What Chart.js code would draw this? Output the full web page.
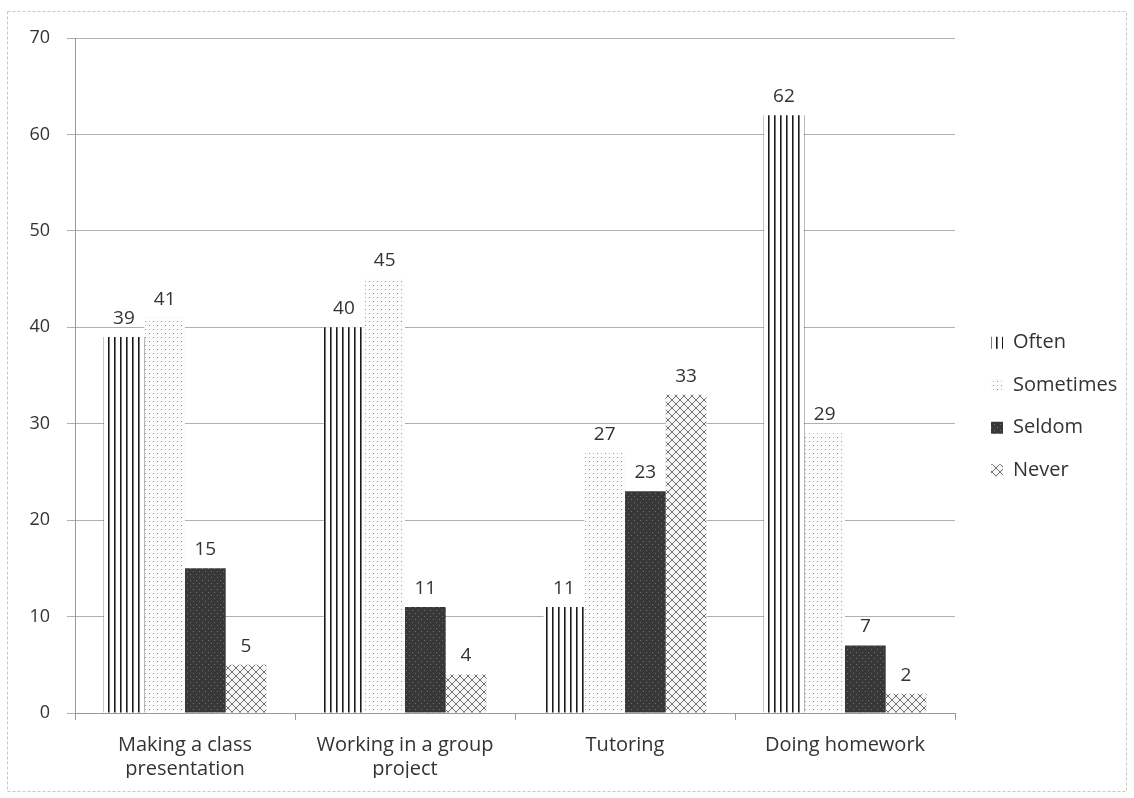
<!DOCTYPE html>
<html><head><meta charset="utf-8">
<script src="https://cdn.jsdelivr.net/npm/chart.js@4/dist/chart.umd.min.js"></script>
<style>html,body{margin:0;padding:0;background:#fff}#wrap{width:1134px;height:798px;position:relative}</style>
</head><body><div id="wrap"><canvas id="c" width="1134" height="798"></canvas></div>
<script>
const categories = [["Making a class","presentation"],["Working in a group","project"],["Tutoring"],["Doing homework"]];
const seriesNames = ["Often","Sometimes","Seldom","Never"];
const often = [39, 40, 11, 62];
const sometimes = [41, 45, 27, 29];
const seldom = [15, 11, 23, 7];
const never = [5, 4, 33, 2];
const yTicks = [0,10,20,30,40,50,60,70];

function pat(kind){
  const c=document.createElement('canvas');
  const x=c.getContext('2d');
  if(kind==='often'){
    c.width=6;c.height=6;x.fillStyle='#fff';x.fillRect(0,0,6,6);
    x.fillStyle='#1a1a1a';x.fillRect(0,0,1,6);x.fillStyle='#777';x.fillRect(1,0,1,6);
  } else if(kind==='sometimes'){
    c.width=8;c.height=8;x.fillStyle='#fcfcfc';x.fillRect(0,0,8,8);
    x.fillStyle='#888';x.fillRect(1,1,1,1);x.fillRect(5,5,1,1);
    x.fillStyle='#c4c4c4';x.fillRect(5,1,1,1);x.fillRect(1,5,1,1);
  } else if(kind==='seldom'){
    c.width=6;c.height=6;x.fillStyle='#383838';x.fillRect(0,0,6,6);
    x.fillStyle='#6e6e6e';x.fillRect(1,1,1,1);x.fillRect(4,4,1,1);
  } else {
    c.width=8;c.height=8;x.fillStyle='#f6f6f6';x.fillRect(0,0,8,8);
    x.strokeStyle='#707070';x.lineWidth=1;
    x.beginPath();x.moveTo(0,0);x.lineTo(8,8);x.moveTo(8,0);x.lineTo(0,8);x.stroke();
  }
  return x.createPattern(c,'repeat');
}
const FONT='"Open Sans"';
const labelPlugin={id:'vals',afterDatasetsDraw(chart){
  const ctx=chart.ctx;ctx.save();ctx.font='19px '+FONT;ctx.fillStyle='#333';ctx.textAlign='center';ctx.textBaseline='bottom';
  chart.data.datasets.forEach((ds,i)=>{chart.getDatasetMeta(i).data.forEach((b,j)=>{ctx.fillText(ds.data[j],b.x,b.y-9);});});
  ctx.restore();
}};
const legendPlugin={id:'leg',afterDraw(chart){
  const ctx=chart.ctx;const a=chart.chartArea;ctx.save();
  ctx.font='20px '+FONT;ctx.textBaseline='middle';
  const n=chart.data.datasets.length, step=42.5;
  const y0=(a.top+a.bottom)/2+31-step*(n-1)/2;
  chart.data.datasets.forEach((ds,i)=>{
    const y=y0+i*step, x=a.right+36;
    ctx.fillStyle=ds.backgroundColor;ctx.fillRect(x,y-6,12,12);
    ctx.fillStyle='#333';ctx.fillText(ds.label,x+22,y);
  });
  ctx.restore();
}};
const borderPlugin={id:'brd',beforeDraw(chart){const ctx=chart.ctx;ctx.save();ctx.strokeStyle='#c8c8c8';ctx.setLineDash([3,2]);ctx.strokeRect(7.5,11.5,1119,780);ctx.restore();}};

const datasets=[
 {label:seriesNames[0],data:often,backgroundColor:pat('often')},
 {label:seriesNames[1],data:sometimes,backgroundColor:pat('sometimes')},
 {label:seriesNames[2],data:seldom,backgroundColor:pat('seldom')},
 {label:seriesNames[3],data:never,backgroundColor:pat('never')}
];
Chart.defaults.font.family='Open Sans';
new Chart(document.getElementById('c'),{
 type:'bar',
 data:{labels:categories,datasets},
 options:{responsive:false,animation:false,
  layout:{padding:{top:38,left:0,right:179,bottom:20}},
  categoryPercentage:0.74,barPercentage:1,
  plugins:{tooltip:{enabled:false},legend:{display:false}},
  scales:{
   x:{grid:{display:true,drawOnChartArea:false,tickLength:7,color:'#999',offset:true},border:{color:'#999'},
      ticks:{font:{size:20},color:'#333',padding:13},afterFit(s){s.height=65;}},
   y:{min:0,max:70,afterBuildTicks(ax){ax.ticks=yTicks.map(v=>({value:v}));},
      grid:{color:'#b0b0b0',tickLength:8},border:{color:'#999',dash:[]},
      ticks:{font:{size:18},color:'#333',padding:17},afterFit(s){s.width=75;}}
  }
 },
 plugins:[labelPlugin,legendPlugin,borderPlugin]
});
</script></body></html>
